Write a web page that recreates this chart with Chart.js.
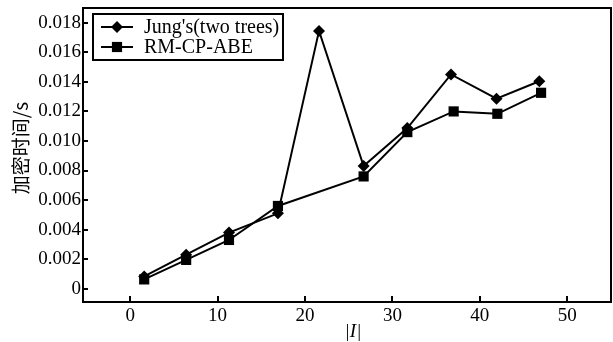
<!DOCTYPE html>
<html>
<head>
<meta charset="utf-8">
<script src="https://cdn.jsdelivr.net/npm/chart.js@4.4.1/dist/chart.umd.min.js"></script>
<style>
  html, body { margin: 0; padding: 0; background: #fff; overflow: hidden; }
  canvas { display: block; }
</style>
</head>
<body>
<canvas id="chart" width="613" height="342"></canvas>
<script>
// |I| 对应的横坐标与加密时间
const jungX = [1.6, 6.4, 11.3, 16.9, 21.6, 26.7, 31.7, 36.7, 41.9, 46.8];
const jungY = [0.00083, 0.0023, 0.0038, 0.0051, 0.01745, 0.0083, 0.01087, 0.0145, 0.01286, 0.01404];
const rmX = [1.6, 6.4, 11.3, 16.9, 26.7, 31.7, 37.0, 42.0, 47.0];
const rmY = [0.00063, 0.00195, 0.0033, 0.0056, 0.0076, 0.0106, 0.0120, 0.01184, 0.01326];
const xTicks = [0, 10, 20, 30, 40, 50];
const yTicks = [0, 0.002, 0.004, 0.006, 0.008, 0.010, 0.012, 0.014, 0.016, 0.018];
const seriesNames = ["Jung's(two trees)", 'RM-CP-ABE'];
const xTitle = '|I|';
const yTitle = '加密时间/s';

const serif = "'Liberation Serif', 'Times New Roman', serif";

function toPoints(xs, ys) {
    return xs.map((x, i) => ({ x: x, y: ys[i] }));
}

// 边框、内向刻度、坐标轴标题和图例
const framePlugin = {
    id: 'frame',
    afterDraw(chart) {
        const ctx = chart.ctx;
        const a = chart.chartArea;
        const xs = chart.scales.x, ys = chart.scales.y;
        ctx.save();
        ctx.strokeStyle = '#000';
        ctx.fillStyle = '#000';
        ctx.lineWidth = 2;
        ctx.strokeRect(a.left, a.top, a.right - a.left, a.bottom - a.top);

        ctx.beginPath();
        xTicks.forEach(v => {
            const px = Math.round(xs.getPixelForValue(v));
            ctx.moveTo(px, a.bottom);
            ctx.lineTo(px, a.bottom - 6);
        });
        yTicks.forEach(v => {
            const py = Math.round(ys.getPixelForValue(v));
            ctx.moveTo(a.left, py);
            ctx.lineTo(a.left + 5, py);
        });
        ctx.stroke();

        // 坐标轴标题
        ctx.textAlign = 'center';
        ctx.textBaseline = 'middle';
        ctx.font = 'italic 19px ' + serif;
        ctx.fillText(xTitle, 353, 332);
        ctx.save();
        ctx.translate(21, 148);
        ctx.rotate(-Math.PI / 2);
        ctx.font = "19px 'Noto Sans CJK SC', sans-serif";
        ctx.fillText(yTitle, 0, 0);
        ctx.restore();

        // 图例
        const lx = a.left + 10, ly = a.top + 6, lw = 190, lh = 46;
        ctx.fillStyle = '#fff';
        ctx.fillRect(lx, ly, lw, lh);
        ctx.strokeRect(lx, ly, lw, lh);
        chart.data.datasets.forEach((ds, i) => {
            const cy = ly + 13 + i * 20;
            ctx.beginPath();
            ctx.lineWidth = 2;
            ctx.moveTo(lx + 8, cy);
            ctx.lineTo(lx + 40, cy);
            ctx.stroke();
            ctx.fillStyle = '#000';
            Chart.helpers.drawPoint(ctx, {
                pointStyle: ds.pointStyle, radius: ds.pointRadius, borderWidth: 0, rotation: 0
            }, lx + 24, cy);
            ctx.font = '20px ' + serif;
            ctx.textBaseline = 'middle';
            ctx.textAlign = 'left';
            ctx.fillText(ds.label, lx + 51, cy + 1);
        });
        ctx.restore();
    }
};

new Chart(document.getElementById('chart'), {
    type: 'scatter',
    data: {
        datasets: [
            {
                label: seriesNames[0],
                data: toPoints(jungX, jungY),
                showLine: true,
                borderColor: '#000',
                backgroundColor: '#000',
                borderWidth: 2,
                pointStyle: 'rectRot',
                pointRadius: 6,
                pointBorderWidth: 0
            },
            {
                label: seriesNames[1],
                data: toPoints(rmX, rmY),
                showLine: true,
                borderColor: '#000',
                backgroundColor: '#000',
                borderWidth: 2,
                pointStyle: 'rect',
                pointRadius: 7.2,
                pointBorderWidth: 0
            }
        ]
    },
    options: {
        responsive: false,
        animation: false,
        devicePixelRatio: 1,
        layout: { autoPadding: false, padding: { left: 0, right: 2, top: 8, bottom: 0 } },
        plugins: {
            legend: { display: false },
            tooltip: { enabled: false }
        },
        scales: {
            x: {
                type: 'linear',
                min: -5.4,
                max: 55,
                afterBuildTicks: s => { s.ticks = xTicks.map(v => ({ value: v })); },
                afterFit: s => { s.height = 40; s.paddingLeft = 0; s.paddingRight = 0; },
                grid: { drawOnChartArea: false, drawTicks: false },
                border: { display: false },
                ticks: { color: '#000', padding: 3, font: { family: serif, size: 19 } }
            },
            y: {
                type: 'linear',
                min: -0.0009,
                max: 0.019,
                afterBuildTicks: s => { s.ticks = yTicks.map(v => ({ value: v })); },
                afterFit: s => { s.width = 83; s.paddingTop = 0; s.paddingBottom = 0; },
                grid: { drawOnChartArea: false, drawTicks: false },
                border: { display: false },
                ticks: {
                    color: '#000',
                    padding: 2,
                    font: { family: serif, size: 19 },
                    callback: v => v === 0 ? '0' : v.toFixed(3)
                }
            }
        }
    },
    plugins: [framePlugin]
});
</script>
</body>
</html>
